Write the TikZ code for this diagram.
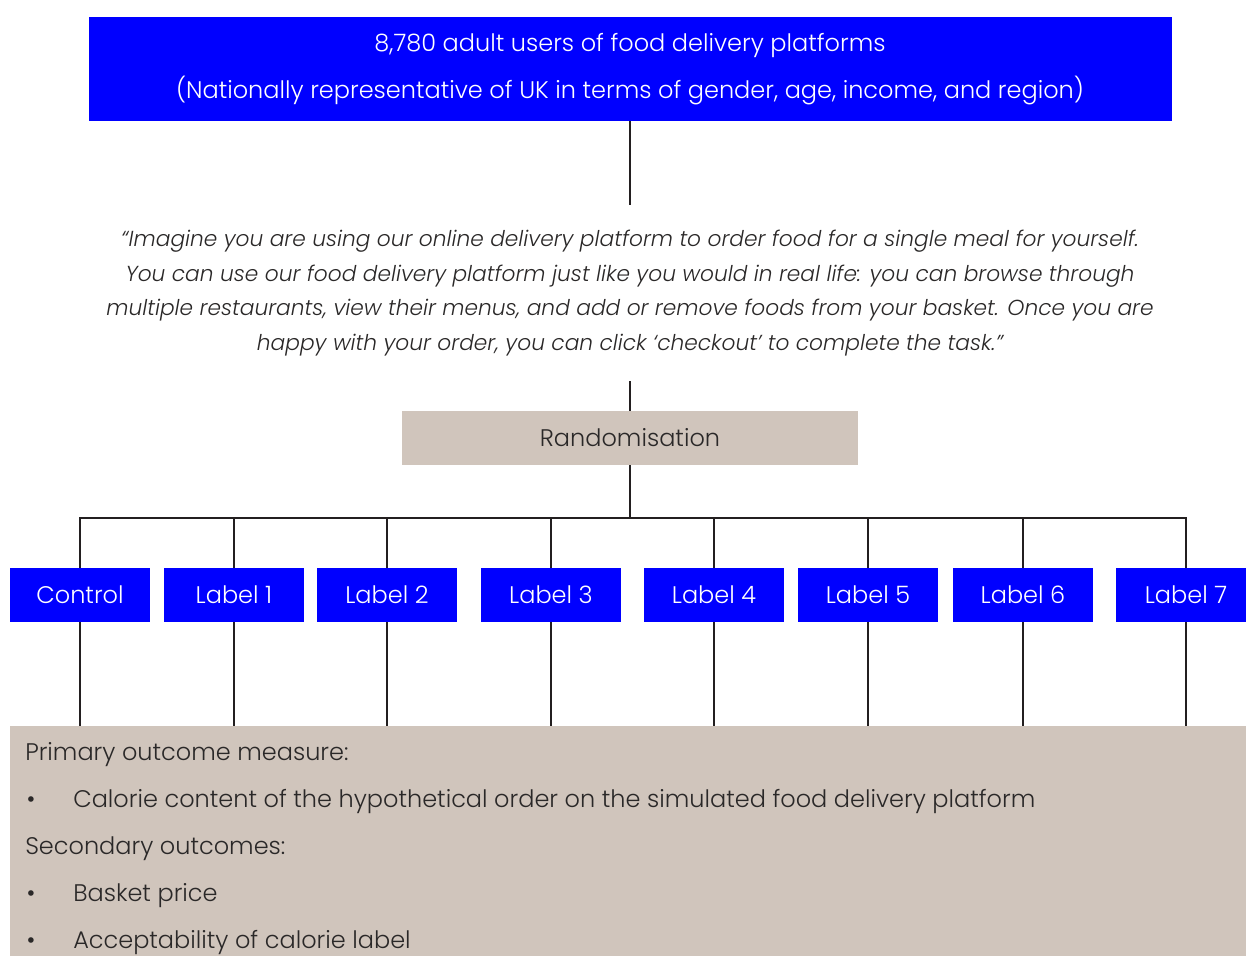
\documentclass[tikz,border=0pt]{standalone}
\usepackage{fontspec}
\setmainfont{Poppins}[UprightFont=* Light, ItalicFont=* Light Italic]
\definecolor{nestablue}{RGB}{0,0,255}
\definecolor{tan}{RGB}{208,197,188}
\definecolor{darktext}{RGB}{42,40,40}
\definecolor{linegray}{RGB}{35,31,32}
\newcommand{\bul}{\makebox[36pt][l]{\hspace{1pt}•}}

\begin{document}
\begin{tikzpicture}[
  x=0.75pt, y=-0.75pt,
  link/.style={draw=linegray, line width=2pt},
  bluebox/.style={fill=nestablue, text=white, font=\fontsize{18}{35.25}\selectfont, align=center, inner sep=0pt},
  armbox/.style={bluebox, minimum width=105pt, minimum height=40.5pt},
  tanbox/.style={fill=tan, text=darktext, font=\fontsize{18}{22}\selectfont, inner sep=0pt},
  quotetext/.style={text=darktext, font=\fontsize{16.3}{26}\selectfont\itshape, align=center, inner sep=0pt, minimum height=132pt},
  outtext/.style={text=darktext, font=\fontsize{18}{35.25}\selectfont, align=left, inner sep=0pt}
]
\useasboundingbox (0,0) rectangle (1246,956);

% sample and task
\node[bluebox, minimum width=812.25pt, minimum height=78pt] (sample) at (630,69) {8,780 adult users of food delivery platforms\\(Nationally representative of UK in terms of gender, age, income, and region)};
\node[quotetext] (task) at (630,293) {“Imagine you are using our online delivery platform to order food for a single meal for yourself.\\You can use our food delivery platform just like you would in real life: you can browse through\\multiple restaurants, view their menus, and add or remove foods from your basket. Once you are\\happy with your order, you can click ‘checkout’ to complete the task.”};
\node[tanbox, minimum width=342pt, minimum height=40.5pt] (rand) at (630,438) {Randomisation};
\coordinate (bus) at (630,518);

% arms
\node[armbox] (ctrl) at (80,595)   {Control};
\node[armbox] (lab1) at (234,595)  {Label 1};
\node[armbox] (lab2) at (387,595)  {Label 2};
\node[armbox] (lab3) at (551,595)  {Label 3};
\node[armbox] (lab4) at (714,595)  {Label 4};
\node[armbox] (lab5) at (868,595)  {Label 5};
\node[armbox] (lab6) at (1023,595) {Label 6};
\node[armbox] (lab7) at (1186,595) {Label 7};

% outcomes
\node[tanbox, anchor=north west, minimum width=937.5pt, minimum height=187.5pt] (outcome) at (10,726) {};
\node[outtext, anchor=west] (measures) at (25,849) {Primary outcome measure:\\\bul Calorie content of the hypothetical order on the simulated food delivery platform\\Secondary outcomes:\\\bul Basket price\\\bul Acceptability of calorie label};

\draw[link] (sample.south) -- (task.north);
\draw[link] (task.south) -- (rand.north);
\draw[link] (rand.south) -- (bus);
\draw[link] (ctrl.north) |- (bus);
\draw[link] (lab1.north) |- (bus);
\draw[link] (lab2.north) |- (bus);
\draw[link] (lab3.north) |- (bus);
\draw[link] (lab4.north) |- (bus);
\draw[link] (lab5.north) |- (bus);
\draw[link] (lab6.north) |- (bus);
\draw[link] (lab7.north) |- (bus);
\draw[link] (ctrl.south) -- (ctrl.south |- outcome.north);
\draw[link] (lab1.south) -- (lab1.south |- outcome.north);
\draw[link] (lab2.south) -- (lab2.south |- outcome.north);
\draw[link] (lab3.south) -- (lab3.south |- outcome.north);
\draw[link] (lab4.south) -- (lab4.south |- outcome.north);
\draw[link] (lab5.south) -- (lab5.south |- outcome.north);
\draw[link] (lab6.south) -- (lab6.south |- outcome.north);
\draw[link] (lab7.south) -- (lab7.south |- outcome.north);
\end{tikzpicture}
\end{document}
